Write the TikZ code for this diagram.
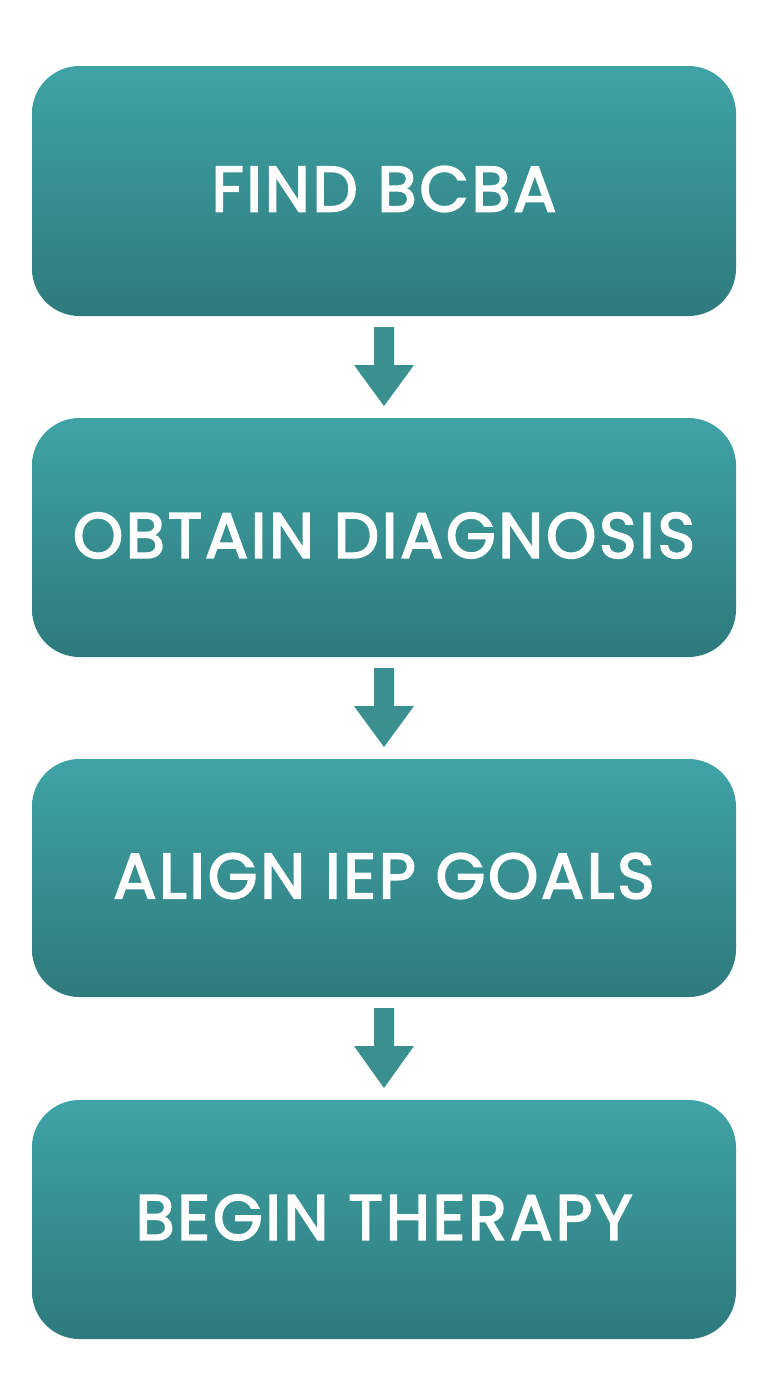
\documentclass[tikz,border=0pt]{standalone}
\usepackage{fontspec}
\setmainfont{Poppins}
\newfontfamily\lblfont{Poppins}[LetterSpace=4,FakeBold=2.5]
\usetikzlibrary{calc}
\definecolor{topc}{HTML}{3FA3A5}
\definecolor{botc}{HTML}{2E7A7C}
\definecolor{arrc}{HTML}{39908F}
\begin{document}
\begin{tikzpicture}[x=0.02cm,y=-0.02cm,
 box/.style={rounded corners=0.95cm,top color=topc,bottom color=botc,draw=none},
 lbl/.style={text=white,font=\lblfont\fontsize{36.5}{38}\selectfont}]
\useasboundingbox (0,0) rectangle (768,1376);
\newcommand{\stepbox}[4]{%
 \path[box] (32,#2) rectangle (736,#3);
 \node[lbl] (#1) at (384,{(#2+#3)/2-2}) {#4};
 \coordinate (#1t) at (384,#2); \coordinate (#1b) at (384,#3);}
\stepbox{a}{66}{316}{FIND BCBA}
\stepbox{b}{418}{657}{OBTAIN DIAGNOSIS}
\stepbox{c}{759}{997}{ALIGN IEP GOALS}
\stepbox{d}{1100}{1339}{BEGIN THERAPY}
\newcommand{\blockarrow}[2]{%
 \fill[arrc] ($(#1)+(-10,11)$) -- ($(#1)+(10,11)$) -- ($(#1)+(10,49)$) -- ($(#1)+(30,49)$)
  -- ($(#2)+(0,-12)$) -- ($(#1)+(-30,49)$) -- ($(#1)+(-10,49)$) -- cycle;}
\blockarrow{ab}{bt}
\blockarrow{bb}{ct}
\blockarrow{cb}{dt}
\end{tikzpicture}
\end{document}
